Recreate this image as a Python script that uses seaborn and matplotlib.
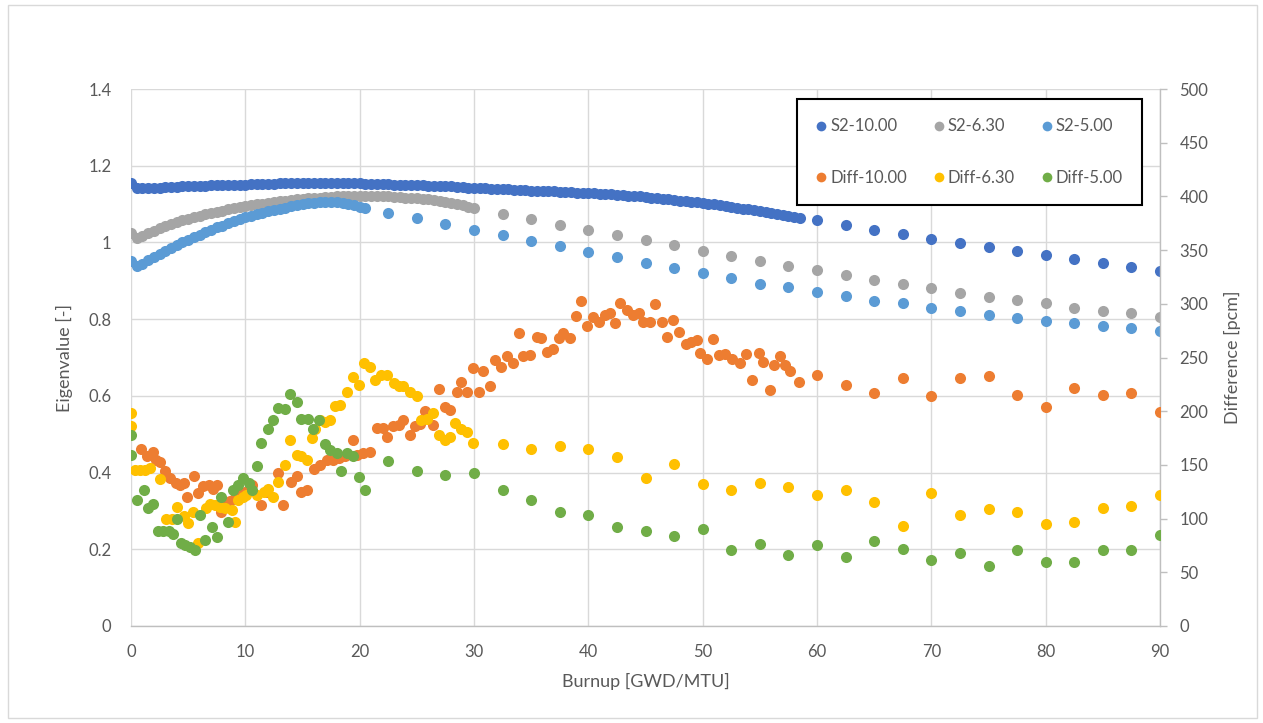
import numpy as np
import matplotlib
matplotlib.use("Agg")
import matplotlib.pyplot as plt
from matplotlib.lines import Line2D
from matplotlib.patches import Rectangle
import seaborn as sns

# ---------------- data ----------------
# Eigenvalue series (left axis). Dense depletion steps first, then 2.5 GWD/MTU steps.
s2_10_x = list(np.arange(0, 59.0, 0.5)) + [60, 62.5, 65, 67.5, 70, 72.5, 75, 77.5, 80, 82.5, 85, 87.5, 90]
s2_10_y = [
    1.154, 1.141, 1.141, 1.142, 1.143, 1.143, 1.144, 1.145, 1.145, 1.146,
    1.147, 1.147, 1.148, 1.148, 1.149, 1.149, 1.150, 1.150, 1.150, 1.151,
    1.151, 1.152, 1.152, 1.152, 1.153, 1.153, 1.154, 1.154, 1.155, 1.155,
    1.156, 1.155, 1.155, 1.155, 1.155, 1.155, 1.154, 1.154, 1.154, 1.154,
    1.154, 1.153, 1.153, 1.153, 1.152, 1.152, 1.151, 1.151, 1.150, 1.150,
    1.149, 1.149, 1.148, 1.148, 1.147, 1.146, 1.146, 1.145, 1.144, 1.143,
    1.142, 1.141, 1.141, 1.140, 1.139, 1.139, 1.138, 1.137, 1.137, 1.136,
    1.135, 1.135, 1.134, 1.133, 1.133, 1.132, 1.131, 1.131, 1.130, 1.129,
    1.129, 1.128, 1.127, 1.126, 1.125, 1.124, 1.123, 1.122, 1.121, 1.120,
    1.118, 1.117, 1.115, 1.114, 1.112, 1.111, 1.109, 1.108, 1.106, 1.105,
    1.103, 1.101, 1.099, 1.097, 1.095, 1.093, 1.090, 1.088, 1.086, 1.084,
    1.082, 1.080, 1.077, 1.075, 1.072, 1.070, 1.067, 1.064,
    1.058, 1.045, 1.032, 1.022, 1.009, 0.998, 0.989, 0.978, 0.968, 0.957,
    0.947, 0.937, 0.925,
]

s2_630_x = list(np.arange(0, 30.5, 0.5)) + [32.5, 35, 37.5, 40, 42.5, 45, 47.5, 50, 52.5, 55, 57.5, 60,
                                            62.5, 65, 67.5, 70, 72.5, 75, 77.5, 80, 82.5, 85, 87.5, 90]
s2_630_y = [
    1.024, 1.012, 1.018, 1.025, 1.031, 1.037, 1.043, 1.048, 1.053, 1.058,
    1.062, 1.066, 1.070, 1.074, 1.077, 1.080, 1.083, 1.086, 1.089, 1.092,
    1.095, 1.097, 1.099, 1.101, 1.103, 1.105, 1.107, 1.109, 1.111, 1.112,
    1.114, 1.115, 1.116, 1.117, 1.118, 1.119, 1.120, 1.121, 1.121, 1.122,
    1.122, 1.122, 1.122, 1.121, 1.121, 1.120, 1.119, 1.118, 1.117, 1.116,
    1.115, 1.113, 1.112, 1.110, 1.108, 1.106, 1.103, 1.100, 1.097, 1.093,
    1.089,
    1.074, 1.061, 1.045, 1.032, 1.019, 1.006, 0.993, 0.978, 0.965, 0.952,
    0.938, 0.928, 0.915, 0.902, 0.892, 0.880, 0.869, 0.858, 0.851, 0.842,
    0.830, 0.822, 0.815, 0.806,
]

s2_500_x = list(np.arange(0, 21.0, 0.5)) + [22.5, 25, 27.5, 30, 32.5, 35, 37.5, 40, 42.5, 45, 47.5, 50,
                                            52.5, 55, 57.5, 60, 62.5, 65, 67.5, 70, 72.5, 75, 77.5, 80,
                                            82.5, 85, 87.5, 90]
s2_500_y = [
    0.952, 0.938, 0.945, 0.953, 0.961, 0.969, 0.977, 0.985, 0.993, 1.000,
    1.007, 1.014, 1.020, 1.027, 1.033, 1.039, 1.044, 1.050, 1.055, 1.060,
    1.065, 1.069, 1.073, 1.077, 1.081, 1.085, 1.088, 1.091, 1.094, 1.097,
    1.100, 1.102, 1.104, 1.105, 1.106, 1.106, 1.105, 1.103, 1.100, 1.097,
    1.093, 1.089,
    1.077, 1.064, 1.048, 1.032, 1.019, 1.004, 0.990, 0.975, 0.962, 0.946,
    0.933, 0.920, 0.907, 0.892, 0.883, 0.871, 0.860, 0.848, 0.841, 0.830,
    0.821, 0.811, 0.803, 0.796, 0.789, 0.782, 0.777, 0.769,
]

# Reactivity differences in pcm (right axis).
diff_10_x = [0.9, 1.4, 1.9, 2.2, 2.5, 3.0, 3.4, 3.9, 4.3, 4.6, 4.9, 5.5, 5.9, 6.3, 6.8, 7.2, 7.5,
             7.9, 8.2, 8.7, 9.1, 9.5, 10.0, 10.6, 11.4, 11.9, 12.9, 13.3, 14.0, 14.5, 14.9, 15.4,
             16.0, 16.5, 17.1, 17.7, 18.2, 18.7, 19.45, 19.8, 20.3, 20.9, 21.5, 22.0, 22.4, 22.95,
             23.4, 23.8, 24.4, 24.8, 25.3, 25.7, 26.45, 26.9, 27.5, 27.9, 28.5, 28.9, 29.4, 29.95,
             30.4, 30.8, 31.4, 31.85, 32.4, 32.9, 33.45, 33.9, 34.3, 34.9, 35.5, 35.9, 36.4, 36.95,
             37.4, 37.8, 38.4, 38.9, 39.4, 39.9, 40.4, 40.9, 41.5, 41.9, 42.3, 42.8, 43.4, 43.9,
             44.4, 44.8, 45.4, 45.8, 46.4, 46.9, 47.4, 47.9, 48.5, 49.0, 49.5, 49.8, 50.4, 50.9,
             51.4, 51.95, 52.55, 53.3, 53.8, 54.3, 54.9, 55.3, 55.85, 56.2, 56.8, 57.2, 57.65, 58.4,
             60, 62.5, 65, 67.5, 70, 72.5, 75, 77.5, 80, 82.5, 85, 87.5, 90]
diff_10_y = [165, 158, 162, 155, 153, 144, 138, 133, 131, 133, 120, 140, 124, 130, 131, 128, 131,
             106, 113, 116, 119, 122, 125, 131, 113, 125, 142, 113, 134, 140, 125, 127,
             146, 150, 155, 155, 156, 158, 173, 159, 161, 162, 184, 184, 176, 186,
             187, 192, 178, 186, 188, 200, 187, 221, 204, 201, 218, 227, 218, 240,
             218, 237, 223, 248, 241, 251, 245, 273, 251, 252, 269, 268, 255, 258,
             268, 273, 268, 289, 303, 279, 288, 283, 290, 291, 282, 301, 294, 290,
             291, 283, 283, 300, 283, 269, 285, 274, 263, 264, 266, 254, 249, 267,
             252, 253, 249, 245, 253, 229, 254, 246, 220, 243, 251, 243, 237, 227,
             234, 224, 217, 231, 214, 231, 233, 215, 204, 222, 215, 217, 199]

diff_630_x = [0.0, 0.0, 0.35, 0.8, 1.2, 1.7, 2.5, 3.1, 3.6, 4.0, 4.6, 5.0, 5.45, 5.9, 6.6, 6.9, 7.35,
              7.8, 8.2, 8.8, 9.1, 9.4, 9.8, 10.1, 11.0, 11.6, 12.0, 12.45, 12.9, 13.5, 13.9, 14.5,
              14.9, 15.4, 15.8, 16.1, 16.5, 17.0, 17.4, 17.85, 18.3, 18.9, 19.45, 19.9, 20.4, 20.9,
              21.3, 21.9, 22.4, 23.0, 23.4, 23.8, 24.4, 25.0, 25.4, 25.9, 26.45, 26.9, 27.5, 27.9,
              28.3, 28.9, 29.4, 29.95,
              32.5, 35, 37.5, 40, 42.5, 45, 47.5, 50, 52.5, 55, 57.5, 60, 62.5, 65, 67.5, 70, 72.5,
              75, 77.5, 80, 82.5, 85, 87.5, 90]
diff_630_y = [198, 186, 145, 145, 145, 147, 137, 100, 100, 111, 102, 96, 106, 77, 110, 114, 113,
              111, 110, 108, 97, 117, 120, 122, 122, 125, 128, 120, 134, 150, 173, 159,
              158, 155, 175, 183, 192, 190, 192, 205, 206, 218, 232, 224, 245, 241,
              229, 234, 234, 226, 223, 223, 218, 214, 192, 193, 198, 178, 173, 176,
              189, 183, 181, 170,
              169, 165, 168, 165, 157, 138, 151, 132, 127, 133, 129, 122, 127, 115, 93, 124, 103,
              109, 106, 95, 97, 110, 112, 122]

diff_500_x = [0.0, 0.0, 0.5, 1.1, 1.5, 1.95, 2.4, 2.8, 3.3, 3.7, 4.0, 4.4, 4.7, 5.2, 5.6, 6.0, 6.5,
              7.1, 7.5, 7.9, 8.5, 8.95, 9.4, 9.8, 10.3, 10.6, 11.0, 11.4, 12.0, 12.45, 12.9, 13.5,
              13.9, 14.5, 14.9, 15.5, 15.96, 16.4, 17.0, 17.4, 18.0, 18.4, 18.9, 19.45, 19.9, 20.5,
              22.5, 25, 27.5, 30, 32.5, 35, 37.5, 40, 42.5, 45, 47.5, 50, 52.5, 55, 57.5, 60, 62.5,
              65, 67.5, 70, 72.5, 75, 77.5, 80, 82.5, 85, 87.5, 90]
diff_500_y = [178, 159, 117, 127, 110, 114, 88, 88, 88, 86, 100, 77, 75, 74, 71, 103, 80,
              92, 83, 120, 97, 127, 131, 138, 133, 127, 149, 170, 183, 192, 203, 202,
              216, 209, 193, 193, 183, 192, 169, 164, 161, 144, 161, 158, 139, 127,
              154, 144, 141, 142, 127, 117, 106, 103, 92, 88, 84, 90, 71, 76, 66, 75, 64,
              79, 72, 61, 68, 56, 71, 60, 60, 71, 71, 85]

eig_series = [
    ("S2-10.00", s2_10_x, s2_10_y, "#4472C4"),
    ("S2-6.30", s2_630_x, s2_630_y, "#A5A5A5"),
    ("S2-5.00", s2_500_x, s2_500_y, "#5B9BD5"),
]
diff_series = [
    ("Diff-10.00", diff_10_x, diff_10_y, "#ED7D31"),
    ("Diff-6.30", diff_630_x, diff_630_y, "#FFC000"),
    ("Diff-5.00", diff_500_x, diff_500_y, "#70AD47"),
]

x_ticks = [0, 10, 20, 30, 40, 50, 60, 70, 80, 90]
left_ticks = [0, 0.2, 0.4, 0.6, 0.8, 1.0, 1.2, 1.4]
left_labels = ["0", "0.2", "0.4", "0.6", "0.8", "1", "1.2", "1.4"]
right_ticks = [0, 50, 100, 150, 200, 250, 300, 350, 400, 450, 500]

# ---------------- style ----------------
sns.set_style("white")
plt.rcParams["font.family"] = ["Lato", "DejaVu Sans"]
text_color = "#595959"
grid_color = "#D9D9D9"
axis_color = "#BFBFBF"

fig = plt.figure(figsize=(12.63, 7.23), dpi=100)
fig.patch.set_facecolor("white")
fig.patches.append(Rectangle((8 / 1263, 5 / 723), 1249 / 1263, 713 / 723,
                             transform=fig.transFigure, fill=False,
                             edgecolor="#D9D9D9", linewidth=1.0))

ax = fig.add_axes([131 / 1263, 1 - 626 / 723, 1029 / 1263, 537 / 723])
ax2 = ax.twinx()

marker_size = 64
for name, xs, ys, col in eig_series:
    sns.scatterplot(x=xs, y=ys, ax=ax, color=col, s=marker_size, linewidth=0,
                    legend=False, zorder=3)
for name, xs, ys, col in diff_series:
    sns.scatterplot(x=xs, y=ys, ax=ax2, color=col, s=marker_size, linewidth=0,
                    legend=False, zorder=3)

ax.set_xlim(0, 90)
ax.set_ylim(0, 1.4)
ax2.set_ylim(0, 500)

ax.set_xticks(x_ticks)
ax.set_yticks(left_ticks)
ax.set_yticklabels(left_labels)
ax2.set_yticks(right_ticks)

ax.grid(True, color=grid_color, linewidth=1.0, zorder=0)
ax.set_axisbelow(True)
ax2.grid(False)

for sp in ["top", "left", "right"]:
    ax.spines[sp].set_visible(False)
ax.spines["bottom"].set_color(axis_color)
ax.spines["bottom"].set_linewidth(1.0)
for sp in ["top", "left", "bottom"]:
    ax2.spines[sp].set_visible(False)
ax2.spines["right"].set_color(axis_color)
ax2.spines["right"].set_linewidth(1.0)

ax.tick_params(axis="x", length=0, pad=13, labelsize=12, labelcolor=text_color)
ax.tick_params(axis="y", length=0, pad=14, labelsize=12, labelcolor=text_color)
ax2.tick_params(axis="y", length=5, width=1, color=axis_color, pad=9,
                labelsize=12, labelcolor=text_color, direction="out")

ax.set_xlabel("Burnup [GWD/MTU]", fontsize=13, color=text_color, labelpad=9)
ax.set_ylabel("Eigenvalue [-]", fontsize=13, color=text_color, labelpad=11)
ax2.set_ylabel("Difference [pcm]", fontsize=13, color=text_color, labelpad=11)

# Legend: eigenvalue series on the first row, differences on the second
order = [eig_series[0], diff_series[0], eig_series[1], diff_series[1],
         eig_series[2], diff_series[2]]
handles = [Line2D([], [], linestyle="none", marker="o", markersize=7,
                  markerfacecolor=c, markeredgewidth=0) for _, _, _, c in order]
labels = [n for n, _, _, _ in order]
leg = ax2.legend(handles, labels, ncol=3, loc="upper left",
                 bbox_to_anchor=(0.647, 0.784, 0.3355, 0.197), mode="expand",
                 frameon=True, fancybox=False, edgecolor="black", framealpha=1,
                 fontsize=12, labelspacing=2.15, borderpad=1.15, handlelength=0.6,
                 handletextpad=0.25, columnspacing=1.0, labelcolor=text_color,
                 borderaxespad=0)
leg.get_frame().set_linewidth(1.5)

fig.savefig("out.png", dpi=100, facecolor="white")
